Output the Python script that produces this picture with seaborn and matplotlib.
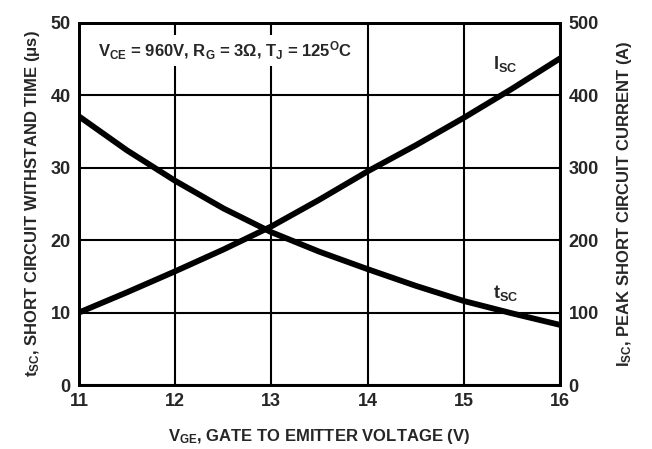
import matplotlib
matplotlib.use("Agg")
import matplotlib.pyplot as plt
import seaborn as sns
import pandas as pd

vge = [11, 11.5, 12, 12.5, 13, 13.5, 14, 14.5, 15, 15.5, 16]
tsc = [37.1, 32.4, 28.2, 24.4, 21.1, 18.4, 16.0, 13.7, 11.6, 9.9, 8.3]
isc = [100, 128, 157, 187, 219, 256, 295, 331, 369, 409, 451]

sns.set_style("white")
plt.rcParams['font.family'] = ['Liberation Sans', 'DejaVu Sans']
plt.rcParams['font.weight'] = 'bold'
plt.rcParams['mathtext.fontset'] = 'custom'
plt.rcParams['mathtext.rm'] = 'Liberation Sans:weight=bold'
plt.rcParams['mathtext.it'] = 'Liberation Sans:weight=bold'
plt.rcParams['mathtext.bf'] = 'Liberation Sans:weight=bold'
plt.rcParams['mathtext.sf'] = 'Liberation Sans:weight=bold'
plt.rcParams['mathtext.default'] = 'bf'

df = pd.DataFrame({"vge": vge, "tsc": tsc, "isc": isc})

fig = plt.figure(figsize=(6.52, 4.49), dpi=100)
ax = fig.add_axes([0.121, 0.1425, 0.738, 0.8065])
ax2 = ax.twinx()

sns.lineplot(data=df, x="vge", y="tsc", ax=ax, color="black", linewidth=4.2)
sns.lineplot(data=df, x="vge", y="isc", ax=ax2, color="black", linewidth=4.2)

ax.set_xlim(11, 16)
ax.set_ylim(0, 50)
ax2.set_ylim(0, 500)
ax.set_xticks([11, 12, 13, 14, 15, 16])
ax.set_yticks([0, 10, 20, 30, 40, 50])
ax2.set_yticks([0, 100, 200, 300, 400, 500])
ax.grid(True, color="black", linewidth=1.5)
ax.set_axisbelow(True)
for a in (ax, ax2):
    for s in a.spines.values():
        s.set_color("black")
        s.set_linewidth(2)
    a.tick_params(length=0, labelsize=13, pad=6)
    for lab in a.get_xticklabels() + a.get_yticklabels():
        lab.set_fontweight('bold')

ax.set_xlabel(r"$V_{GE}$, GATE TO EMITTER VOLTAGE (V)", fontsize=12, fontweight='bold', labelpad=12)
ax.set_ylabel(r"$t_{SC}$, SHORT CIRCUIT WITHSTAND TIME ($\mu$s)", fontsize=12, fontweight='bold', labelpad=6)
ax2.set_ylabel(r"$I_{SC}$, PEAK SHORT CIRCUIT CURRENT (A)", fontsize=12, fontweight='bold', labelpad=12)

ax.text(11.2, 46.2, r"$V_{CE}$ = 960V, $R_G$ = 3$\Omega$, $T_J$ = 125$^{O}$C", fontsize=12,
        fontweight='bold', va='center', ha='left',
        bbox=dict(facecolor='white', edgecolor='none', pad=3))
ax.text(15.3, 44.3, r"$I_{SC}$", fontsize=13, ha='left', va='center')
ax.text(15.3, 12.7, r"$t_{SC}$", fontsize=13, ha='left', va='center')

fig.savefig("out.png", dpi=100)
